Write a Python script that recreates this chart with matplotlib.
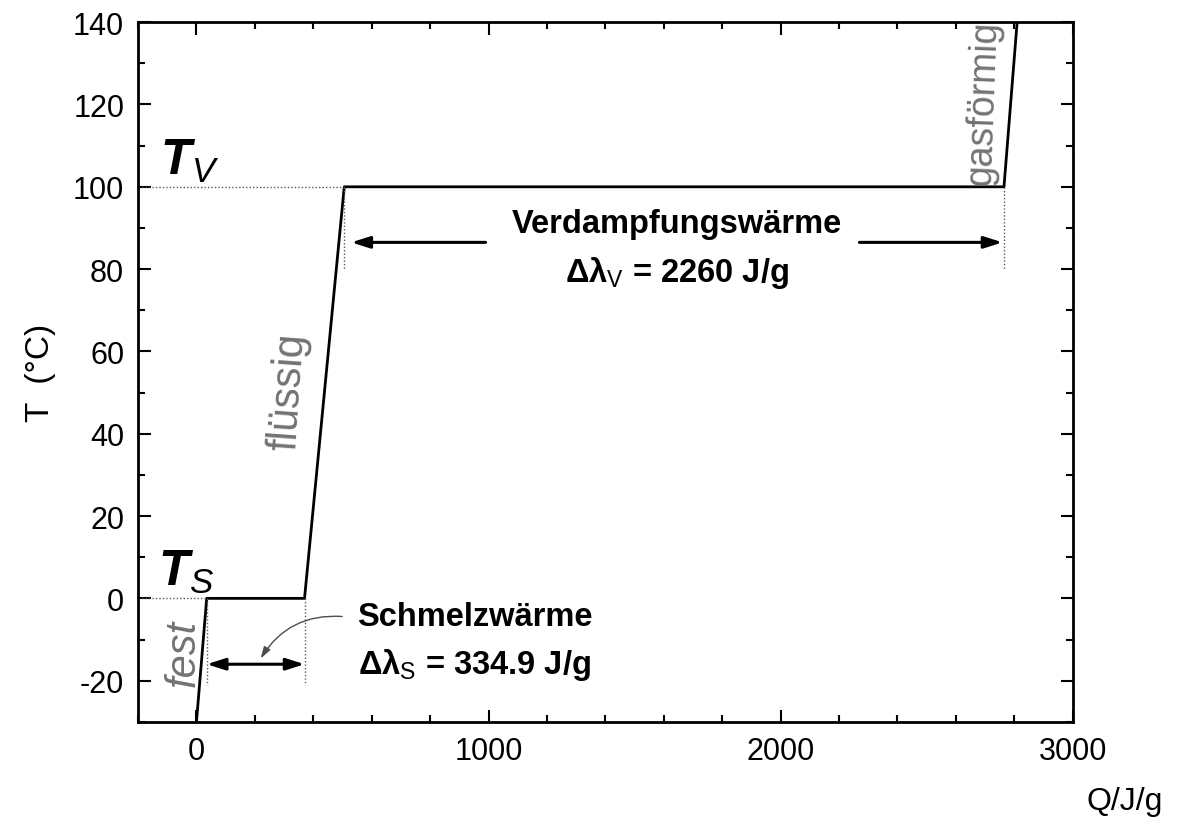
import matplotlib.pyplot as plt
from matplotlib.ticker import MultipleLocator

plt.rcParams['font.family'] = ['Liberation Sans', 'DejaVu Sans']
plt.rcParams['axes.unicode_minus'] = False
plt.rcParams['mathtext.fontset'] = 'custom'
plt.rcParams['mathtext.rm'] = 'Liberation Sans'
plt.rcParams['mathtext.it'] = 'Liberation Sans:italic'
plt.rcParams['mathtext.bf'] = 'Liberation Sans:bold'
plt.rcParams['mathtext.bfit'] = 'Liberation Sans:italic:bold'

# Heizkurve von Wasser (Werte aus dem Bild gelesen)
Q = [0, 35, 370, 506, 2765, 2810]
T = [-30, 0, 0, 100, 100, 140]

Q_schmelz = [35, 370]
Q_verdampf = [506, 2765]
T_s = 0
T_v = 100

fig = plt.figure(figsize=(11.8, 8.28), dpi=100)
ax = fig.add_axes([0.117, 0.127, 0.792, 0.845])

ax.plot(Q, T, color='k', lw=2)

# gepunktete Hilfslinien
dot = dict(color='0.35', lw=1, ls=(0, (1, 1.5)))
ax.plot([-200, Q[1]], [T_s, T_s], **dot)
ax.plot([-200, Q[3]], [T_v, T_v], **dot)
ax.plot([Q_schmelz[0]] * 2, [T_s, -21], **dot)
ax.plot([Q_schmelz[1]] * 2, [T_s, -21], **dot)
ax.plot([Q_verdampf[0]] * 2, [T_v, 80], **dot)
ax.plot([Q_verdampf[1]] * 2, [T_v, 80], **dot)

# Pfeile
arr = dict(arrowstyle='<|-|>,head_length=1.1,head_width=0.35', color='k', lw=2.2,
           shrinkA=0, shrinkB=0)
ax.annotate('', xy=(Q_schmelz[0], -16), xytext=(Q_schmelz[1], -16), arrowprops=arr)
one = dict(arrowstyle='-|>,head_length=1.1,head_width=0.35', color='k', lw=2.2,
           shrinkA=0, shrinkB=0)
ax.annotate('', xy=(530, 86.5), xytext=(990, 86.5), arrowprops=one)
ax.annotate('', xy=(2760, 86.5), xytext=(2270, 86.5), arrowprops=one)
ax.annotate('', xy=(220, -14.6), xytext=(499, -4.4),
            arrowprops=dict(arrowstyle='-|>,head_length=0.7,head_width=0.22',
                            color='0.3', lw=1, shrinkA=0, shrinkB=0,
                            connectionstyle='arc3,rad=0.3'))

# Beschriftungen
ax.text(1644, 89, 'Verdampfungswärme', ha='center', va='baseline',
        fontsize=23.5, fontweight='bold')
ax.text(1644, 77.2, r'Δλ$_\mathrm{V}$ = 2260 J/g', ha='center', va='baseline',
        fontsize=23.5, fontweight='bold')
ax.text(953, -6.5, 'Schmelzwärme', ha='center', va='baseline',
        fontsize=23.5, fontweight='bold')
ax.text(953, -18.2, r'Δλ$_\mathrm{S}$ = 334.9 J/g', ha='center', va='baseline',
        fontsize=23.5, fontweight='bold')

ax.text(-131, 3.2, r'$\mathbfit{T}_{\mathit{S}}$', fontsize=36, va='baseline')
ax.text(-124, 103.2, r'$\mathbfit{T}_{\mathit{V}}$', fontsize=36, va='baseline')

grau = '0.45'
ax.text(-45, -13, 'fest', rotation=90, color=grau, fontsize=30, style='italic',
        ha='center', va='center')
ax.text(316, 50.5, 'flüssig', rotation=86, color=grau, fontsize=30,
        ha='center', va='center', rotation_mode='anchor')
ax.text(2695, 120.5, 'gasförmig', rotation=88, color=grau, fontsize=27,
        ha='center', va='center', rotation_mode='anchor')

ax.set_xlim(-200, 3000)
ax.set_ylim(-30, 140)
ax.xaxis.set_major_locator(MultipleLocator(1000))
ax.xaxis.set_minor_locator(MultipleLocator(200))
ax.yaxis.set_major_locator(MultipleLocator(20))
ax.yaxis.set_minor_locator(MultipleLocator(10))
ax.tick_params(which='both', direction='in', top=True, right=True, width=1.5)
ax.tick_params(which='major', length=9, labelsize=22, pad=10)
ax.tick_params(which='minor', length=5)
for s in ax.spines.values():
    s.set_linewidth(2)

ax.set_ylabel('T  (°C)', fontsize=24, labelpad=12)
fig.text(1125 / 1180, 1 - 802 / 828, 'Q/J/g', fontsize=23, ha='center', va='center')

fig.savefig('out.png', dpi=100)
